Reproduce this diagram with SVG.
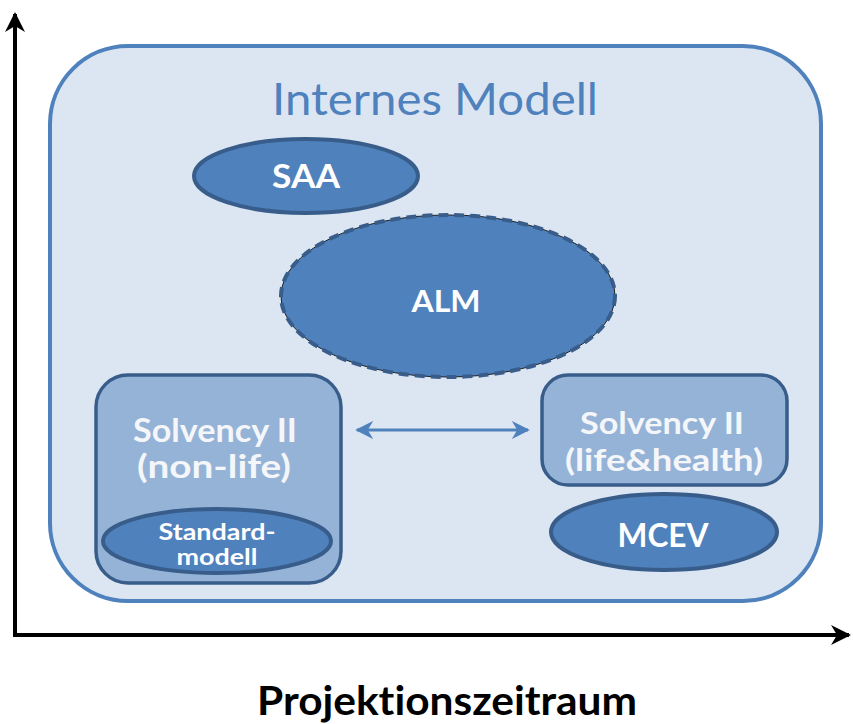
<svg xmlns="http://www.w3.org/2000/svg" width="853" height="724" viewBox="0 0 853 724">
  <style>
    text { font-family: Lato, "Open Sans", "Liberation Sans", sans-serif; text-anchor: middle; font-variant-ligatures: none; }
    .lbl { fill: #ffffff; font-weight: bold; }
    .blob { fill: #4f81bd; stroke: #385d8a; stroke-width: 4; }
    .box { fill: #95b3d7; stroke: #385d8a; stroke-width: 3.5; }
    .boxtxt { fill: #f4f6f9; font-weight: bold; font-size: 32px; }
  </style>
  <defs>
    <marker id="axisHead" viewBox="0 0 10 10" refX="9" refY="5" markerWidth="5" markerHeight="5" orient="auto" markerUnits="strokeWidth">
      <path d="M0,0 L10,5 L0,10 L3,5 Z" fill="#000"/>
    </marker>
    <marker id="blueHead" viewBox="0 0 10 10" refX="9" refY="5" markerWidth="6" markerHeight="6" orient="auto-start-reverse" markerUnits="strokeWidth">
      <path d="M0,0 L10,5 L0,10 L3,5 Z" fill="#4f81bd"/>
    </marker>
  </defs>

  <!-- axes -->
  <g id="axes" stroke="#000" stroke-width="4" fill="none">
    <line x1="15" y1="637" x2="15" y2="14" marker-end="url(#axisHead)"/>
    <line x1="13" y1="635" x2="849" y2="635" marker-end="url(#axisHead)"/>
  </g>

  <!-- internal model container -->
  <g id="internes-modell">
    <rect x="50" y="46" width="771" height="555" rx="78" ry="78" fill="#dce6f2" stroke="#4f81bd" stroke-width="4"/>
    <text x="435" y="115" font-size="45" fill="#4f81bd" textLength="326" lengthAdjust="spacingAndGlyphs">Internes Modell</text>
  </g>

  <g id="saa">
    <ellipse cx="306" cy="176" rx="112" ry="37" class="blob"/>
    <text x="306" y="188" font-size="32" class="lbl" textLength="68" lengthAdjust="spacingAndGlyphs">SAA</text>
  </g>

  <g id="alm">
    <ellipse cx="448" cy="296" rx="167" ry="81" fill="#4f81bd" stroke="#1f1f1f" stroke-width="1"/>
    <ellipse cx="448" cy="296" rx="167" ry="81" fill="none" stroke="#385d8a" stroke-width="4" stroke-dasharray="10 6"/>
    <text x="446" y="312" font-size="31" class="lbl" textLength="69" lengthAdjust="spacingAndGlyphs">ALM</text>
  </g>

  <g id="solvency-nonlife">
    <rect x="96" y="375" width="245" height="208" rx="32" ry="32" class="box"/>
    <text x="215" y="442" class="boxtxt" textLength="164" lengthAdjust="spacingAndGlyphs">Solvency II</text>
    <text x="214" y="478" class="boxtxt" textLength="154" lengthAdjust="spacingAndGlyphs">(non-life)</text>
  </g>

  <g id="standardmodell">
    <ellipse cx="217" cy="541" rx="114" ry="32" class="blob"/>
    <text x="217" y="540" font-size="22" class="lbl" textLength="117" lengthAdjust="spacingAndGlyphs">Standard-</text>
    <text x="217" y="565" font-size="22" class="lbl" textLength="81" lengthAdjust="spacingAndGlyphs">modell</text>
  </g>

  <g id="solvency-life">
    <rect x="542" y="375" width="245" height="110" rx="26" ry="26" class="box"/>
    <text x="662" y="434" font-size="31" class="lbl" style="fill:#f4f6f9" textLength="164" lengthAdjust="spacingAndGlyphs">Solvency II</text>
    <text x="664" y="471" font-size="31" class="lbl" style="fill:#f4f6f9" textLength="198" lengthAdjust="spacingAndGlyphs">(life&amp;health)</text>
  </g>

  <g id="mcev">
    <ellipse cx="664" cy="532" rx="113" ry="38" class="blob"/>
    <text x="663" y="547" font-size="32" class="lbl" textLength="91" lengthAdjust="spacingAndGlyphs">MCEV</text>
  </g>

  <!-- connectors -->
  <g id="connectors">
    <line x1="357" y1="430" x2="528" y2="430" stroke="#4f81bd" stroke-width="3" marker-start="url(#blueHead)" marker-end="url(#blueHead)"/>
  </g>

  <text x="447" y="715" font-size="41" font-weight="bold" fill="#000" textLength="380" lengthAdjust="spacingAndGlyphs">Projektionszeitraum</text>
</svg>
